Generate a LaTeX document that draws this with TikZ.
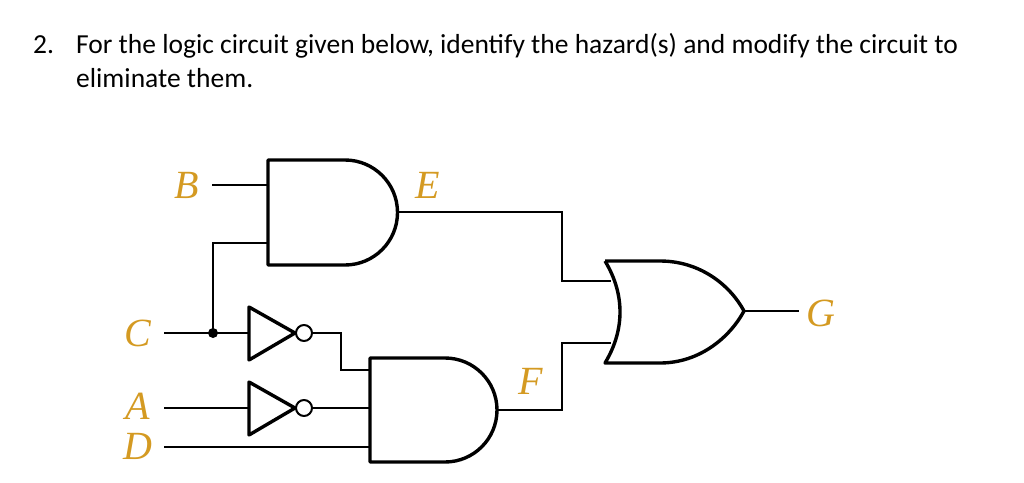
\documentclass[tikz,border=0pt]{standalone}
\usepackage{fontspec}
\setmainfont{Liberation Serif}
\newfontfamily\titlefont{Carlito}
\definecolor{lbl}{HTML}{D49A22}
\begin{document}
\begin{tikzpicture}[x=1pt,y=-1pt,
  wire/.style={line width=2pt},
  gate/.style={line width=3.4pt, line join=round},
  lab/.style={text=lbl, font=\fontsize{40}{40}\selectfont\itshape, inner sep=0pt}]
\useasboundingbox (0,0) rectangle (1024,482);
% title
\node[anchor=base west, inner sep=0pt, font=\titlefont\fontsize{27.5}{27.5}\selectfont] (t1) at (33,53) {2.};
\node[anchor=base west, inner sep=0pt, font=\titlefont\fontsize{27.5}{27.5}\selectfont] (t0) at (76,53) {For the logic circuit given below, identify the hazard(s) and modify the circuit to};
\node[anchor=base west, inner sep=0pt, font=\titlefont\fontsize{27.5}{27.5}\selectfont] (t2) at (76,87) {eliminate them.};
% AND gate 1
\draw[gate] (345,160) -- (268,160) -- (268,265) -- (345,265) arc (90:-90:52.5);
% AND gate 2
\draw[gate] (445,358) -- (370,358) -- (370,462) -- (445,462) arc (90:-90:52);
% OR gate
\draw[gate] (605,261) -- (660,261) .. controls (700,261) and (730,285) .. (744,311)
  .. controls (730,337) and (700,363) .. (660,363) -- (605,363)
  .. controls (625,330) and (625,294) .. (605,261);
% inverters
\draw[gate] (249,307) -- (295,333) -- (249,360) -- cycle;
\draw[gate, line width=2pt] (304,333) circle (8);
\draw[gate] (249,382) -- (295,408) -- (249,435) -- cycle;
\draw[gate, line width=2pt] (304,408) circle (8);
% labels
\node[lab] (B) at (187,185) {B};
\node[lab] (E) at (428,185) {E};
\node[lab] (C) at (138,333) {C};
\node[lab] (A) at (138,406) {A};
\node[lab] (D) at (138,446) {D};
\node[lab] (F) at (531,381) {F};
\node[lab] (G) at (821,313) {G};
% wires
\coordinate (dot) at (213,333);
\draw[wire] (212,185) -- (268,185);
\draw[wire] (164,333) -- (249,333);
\draw[wire] (dot) |- (268,243);
\fill (dot) circle (5);
\draw[wire] (312,333) -| (341,370) -- (370,370);
\draw[wire] (164,408) -- (249,408);
\draw[wire] (312,408) -- (370,408);
\draw[wire] (164,447) -- (370,447);
\draw[wire] (397,212) -| (562,281) -- (611,281);
\draw[wire] (497,410) -| (562,343) -- (611,343);
\draw[wire] (744,311) -- (799,311);
\end{tikzpicture}
\end{document}
